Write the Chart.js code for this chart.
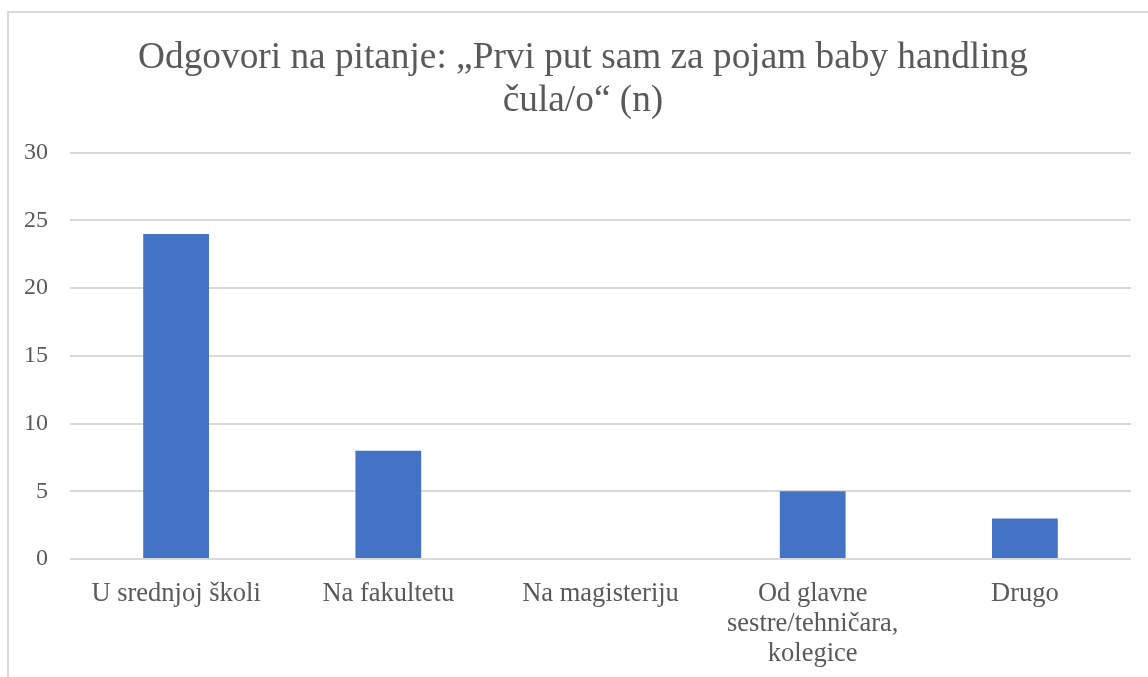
<!DOCTYPE html>
<html>
<head>
<meta charset="utf-8">
<script src="https://cdn.jsdelivr.net/npm/chart.js@4/dist/chart.umd.min.js"></script>
<style>
    html, body { margin: 0; padding: 0; background: #fff; overflow: hidden; }
    #frame {
        position: absolute;
        left: 7px;
        top: 11px;
        width: 1160px;
        height: 690px;
        border: 2px solid #d9d9d9;
        box-sizing: border-box;
    }
    #chart-box { position: absolute; left: -1px; top: 0; width: 1150px; height: 680px; }
    .probe { font-family: 'Liberation Serif'; position: absolute; left: -999px; }
</style>
</head>
<body>
<span class="probe">Odgovori</span>
<div id="frame">
    <div id="chart-box"><canvas id="grafikon"></canvas></div>
</div>
<script>
// Podaci očitani sa grafikona
const kategorije = [
    'U srednjoj školi',
    'Na fakultetu',
    'Na magisteriju',
    ['Od glavne', 'sestre/tehničara,', 'kolegice'],
    'Drugo',
];
const odgovori = [24, 8, 0, 5, 3];
const naslov = ['Odgovori na pitanje: „Prvi put sam za pojam baby handling', 'čula/o“ (n)'];
const yMin = 0;
const yMax = 30;
const yKorak = 5;

const tekstBoja = '#595959';
const mrezaBoja = '#d9d9d9';
const serif = 'Liberation Serif';

function nacrtaj() {
    const canvas = document.getElementById('grafikon');
    new Chart(canvas.getContext('2d'), {
        type: 'bar',
        data: {
            labels: kategorije,
            datasets: [
                {
                    label: 'n',
                    data: odgovori,
                    backgroundColor: '#4472c4',
                    borderWidth: 0,
                    categoryPercentage: 1,
                    barPercentage: 0.31,
                    yAxisID: 'y',
                },
            ],
        },
        options: {
            responsive: true,
            maintainAspectRatio: false,
            animation: false,
            layout: { padding: 0 },
            plugins: {
                legend: { display: false },
                tooltip: { enabled: false },
                title: {
                    display: true,
                    text: naslov,
                    color: tekstBoja,
                    font: { family: serif, size: 37.3, weight: 'normal', lineHeight: 1.15 },
                    padding: { top: 24, bottom: 30 },
                },
            },
            scales: {
                x: {
                    grid: { display: false, drawTicks: false },
                    border: { display: false },
                    ticks: {
                        color: tekstBoja,
                        font: { family: serif, size: 26.5, lineHeight: 1.13 },
                        padding: 20,
                        maxRotation: 0,
                        autoSkip: false,
                    },
                    afterFit(scale) {
                        scale.height = 134;
                    },
                },
                y: {
                    min: yMin,
                    max: yMax,
                    grid: { color: mrezaBoja, lineWidth: 2, drawTicks: false },
                    border: { display: false },
                    ticks: {
                        stepSize: yKorak,
                        color: tekstBoja,
                        font: { family: serif, size: 24 },
                        padding: 22,
                    },
                    afterFit(scale) {
                        scale.width = 62;
                    },
                },
                // prazan prostor desno od grafikona
                desno: {
                    position: 'right',
                    grid: { display: false, drawTicks: false },
                    border: { display: false },
                    ticks: { display: false },
                    afterFit(scale) {
                        scale.width = 27;
                    },
                },
            },
        },
    });
}

Chart.defaults.font.family = serif;
document.fonts.load('36px "Liberation Serif"').then(nacrtaj, nacrtaj);
</script>
</body>
</html>
